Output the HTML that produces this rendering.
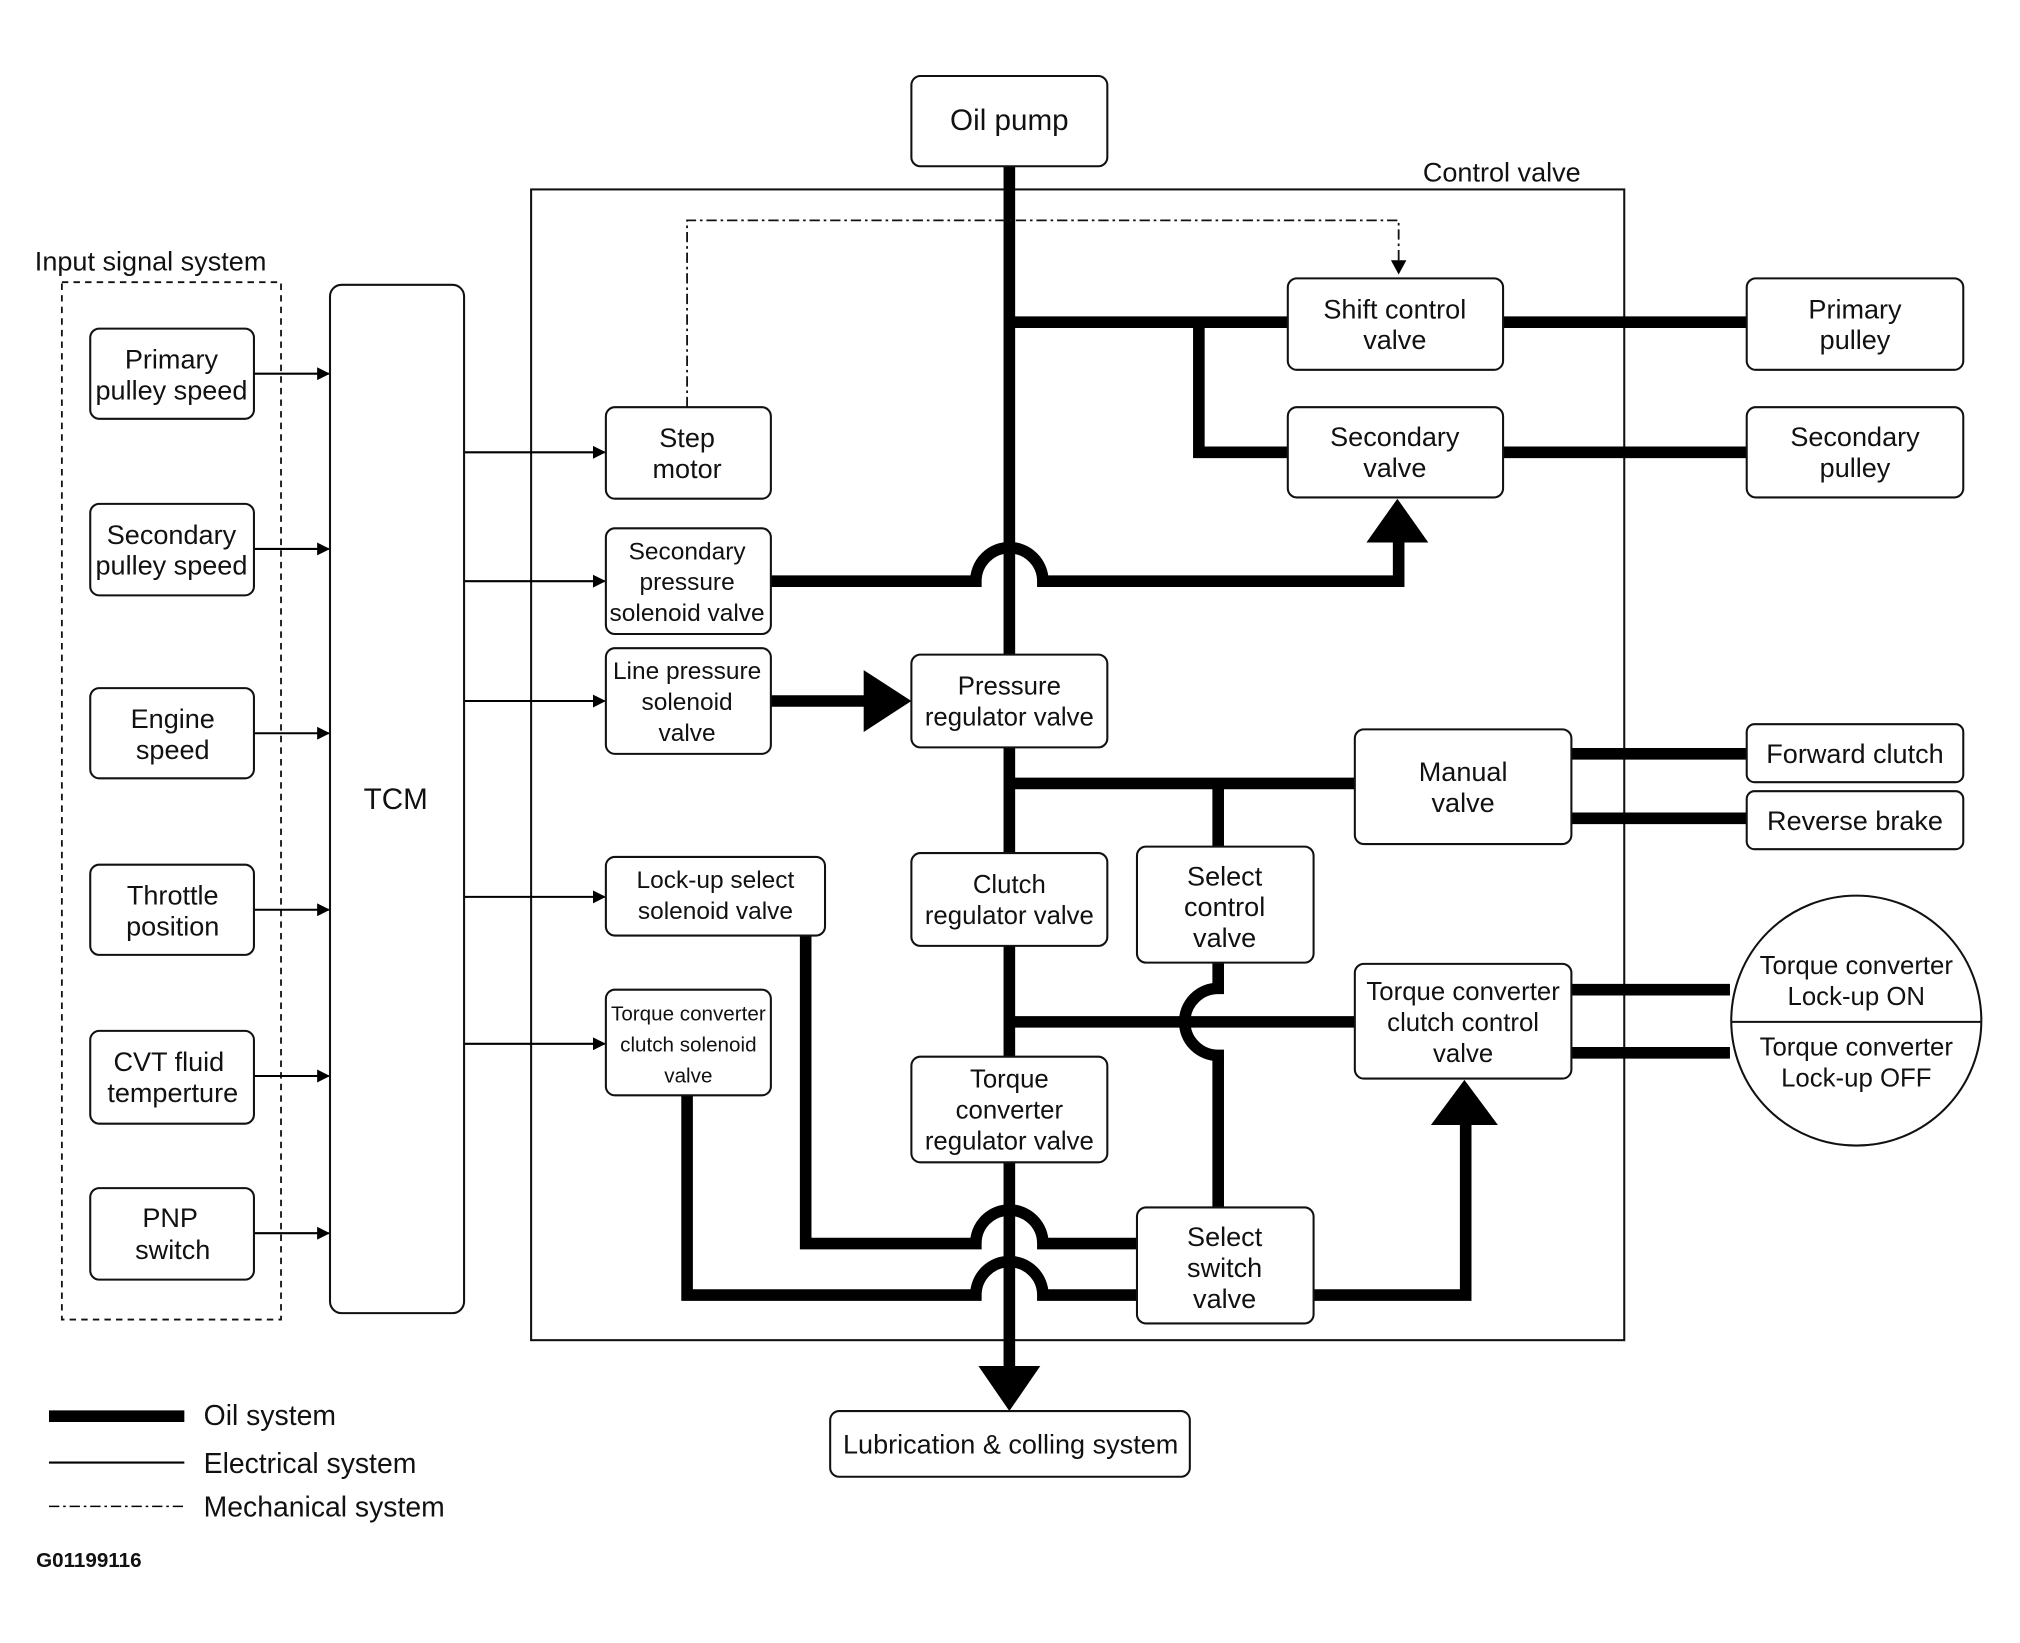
<!DOCTYPE html>
<html><head><meta charset="utf-8"><style>
html,body{margin:0;padding:0;background:#fff}
svg{display:block}
text{font-family:"Liberation Sans",sans-serif;font-size:21px;fill:#111;text-anchor:middle}
.b{fill:#fff;stroke:#111;stroke-width:1.6}
.t{fill:none;stroke:#000;stroke-width:9}
.e{fill:none;stroke:#000;stroke-width:1.6}
</style></head><body>
<svg width="2020" height="1643" viewBox="0 0 1567 1275" preserveAspectRatio="none" xmlns="http://www.w3.org/2000/svg">
<defs><marker id="a" markerWidth="10" markerHeight="10" refX="9" refY="5" orient="auto" markerUnits="userSpaceOnUse"><path d="M0,0 L10,5 L0,10 z" fill="#000"/></marker></defs>
<rect x="412" y="147" width="848" height="893" fill="none" stroke="#111" stroke-width="1.6"/>
<text x="1165" y="141">Control valve</text>
<rect x="48" y="219" width="170" height="805" fill="none" stroke="#111" stroke-width="1.4" stroke-dasharray="5,4"/>
<text x="27" y="210" style="text-anchor:start">Input signal system</text>

<path class="t" d="M783 129 V508 M783 580 V662 M783 734 V820 M783 902 V1062"/>
<path class="t" d="M783 250 H999 M1166 250 H1355 M930 250 V351 H999 M1166 351 H1355"/>
<path class="t" d="M598 451 H757 A26 26 0 0 1 809 451 H1085 V420"/>
<polygon points="1060,421 1108,421 1084,387" fill="#000"/>
<path class="t" d="M598 544 H672"/>
<polygon points="670,520 670,568 707,544" fill="#000"/>
<path class="t" d="M783 608 H1051 M945 608 V657 M1219 585 H1355 M1219 635 H1355"/>
<path class="t" d="M783 793 H1051 M945 747 V767 A26 26 0 0 0 945 819 V937 M1219 768 H1342 M1219 817 H1342"/>
<path class="t" d="M625 726 V965 H757 A26 26 0 0 1 809 965 H882"/>
<path class="t" d="M533 850 V1005 H757 A26 26 0 0 1 809 1005 H882 M1019 1005 H1137 V872"/>
<polygon points="1110,873 1162,873 1136,838" fill="#000"/>
<polygon points="759,1060 807,1060 783,1095" fill="#000"/>

<path d="M533 316 V171 H1085 V205" fill="none" stroke="#111" stroke-width="1.4" stroke-dasharray="8,3,2,3"/>
<path d="M1079,202 L1091,202 L1085,213 z" fill="#000"/>

<g class="e" marker-end="url(#a)">
<path d="M197 290 H255"/><path d="M197 426 H255"/><path d="M197 569 H255"/><path d="M197 706 H255"/><path d="M197 835 H255"/><path d="M197 957 H255"/>
<path d="M360 351 H469"/><path d="M360 451 H469"/><path d="M360 544 H469"/><path d="M360 696 H469"/><path d="M360 810 H469"/>
</g>

<rect class="b" x="707" y="59" width="152" height="70" rx="7"/><text x="783" y="101" style="font-size:23px">Oil pump</text>
<rect class="b" x="256" y="221" width="104" height="798" rx="9"/><text x="307" y="628" style="font-size:23px">TCM</text>
<g>
<rect class="b" x="70" y="255" width="127" height="70" rx="7"/><text x="133" y="286">Primary</text><text x="133" y="310">pulley speed</text>
<rect class="b" x="70" y="391" width="127" height="71" rx="7"/><text x="133" y="422">Secondary</text><text x="133" y="446">pulley speed</text>
<rect class="b" x="70" y="534" width="127" height="70" rx="7"/><text x="134" y="565">Engine</text><text x="134" y="589">speed</text>
<rect class="b" x="70" y="671" width="127" height="70" rx="7"/><text x="134" y="702">Throttle</text><text x="134" y="726">position</text>
<rect class="b" x="70" y="800" width="127" height="72" rx="7"/><text x="131" y="831">CVT fluid</text><text x="134" y="855">temperture</text>
<rect class="b" x="70" y="922" width="127" height="71" rx="7"/><text x="132" y="952">PNP</text><text x="134" y="977">switch</text>
</g>
<rect class="b" x="470" y="316" width="128" height="71" rx="7"/><text x="533" y="347">Step</text><text x="533" y="371">motor</text>
<rect class="b" x="470" y="410" width="128" height="82" rx="7"/><text x="533" y="434" style="font-size:19px">Secondary</text><text x="533" y="458" style="font-size:19px">pressure</text><text x="533" y="482" style="font-size:19px">solenoid valve</text>
<rect class="b" x="470" y="503" width="128" height="82" rx="7"/><text x="533" y="527" style="font-size:19px">Line pressure</text><text x="533" y="551" style="font-size:19px">solenoid</text><text x="533" y="575" style="font-size:19px">valve</text>
<rect class="b" x="470" y="665" width="170" height="61" rx="7"/><text x="555" y="689" style="font-size:19px">Lock-up select</text><text x="555" y="713" style="font-size:19px">solenoid valve</text>
<rect class="b" x="470" y="768" width="128" height="82" rx="7"/><text x="534" y="792" style="font-size:16px">Torque converter</text><text x="534" y="816" style="font-size:16px">clutch solenoid</text><text x="534" y="840" style="font-size:16px">valve</text>
<rect class="b" x="707" y="508" width="152" height="72" rx="7"/><text x="783" y="539" style="font-size:20px">Pressure</text><text x="783" y="563" style="font-size:20px">regulator valve</text>
<rect class="b" x="707" y="662" width="152" height="72" rx="7"/><text x="783" y="693" style="font-size:20px">Clutch</text><text x="783" y="717" style="font-size:20px">regulator valve</text>
<rect class="b" x="707" y="820" width="152" height="82" rx="7"/><text x="783" y="844" style="font-size:20px">Torque</text><text x="783" y="868" style="font-size:20px">converter</text><text x="783" y="892" style="font-size:20px">regulator valve</text>
<rect class="b" x="882" y="657" width="137" height="90" rx="7"/><text x="950" y="687">Select</text><text x="950" y="711">control</text><text x="950" y="735">valve</text>
<rect class="b" x="882" y="937" width="137" height="90" rx="7"/><text x="950" y="967">Select</text><text x="950" y="991">switch</text><text x="950" y="1015">valve</text>
<rect class="b" x="999" y="216" width="167" height="71" rx="7"/><text x="1082" y="247">Shift control</text><text x="1082" y="271">valve</text>
<rect class="b" x="999" y="316" width="167" height="70" rx="7"/><text x="1082" y="346">Secondary</text><text x="1082" y="370">valve</text>
<rect class="b" x="1051" y="566" width="168" height="89" rx="7"/><text x="1135" y="606">Manual</text><text x="1135" y="630">valve</text>
<rect class="b" x="1051" y="748" width="168" height="89" rx="7"/><text x="1135" y="776" style="font-size:20px">Torque converter</text><text x="1135" y="800" style="font-size:20px">clutch control</text><text x="1135" y="824" style="font-size:20px">valve</text>
<rect class="b" x="1355" y="216" width="168" height="71" rx="7"/><text x="1439" y="247">Primary</text><text x="1439" y="271">pulley</text>
<rect class="b" x="1355" y="316" width="168" height="70" rx="7"/><text x="1439" y="346">Secondary</text><text x="1439" y="370">pulley</text>
<rect class="b" x="1355" y="562" width="168" height="45" rx="6"/><text x="1439" y="592">Forward clutch</text>
<rect class="b" x="1355" y="614" width="168" height="45" rx="6"/><text x="1439" y="644">Reverse brake</text>
<circle cx="1440" cy="792" r="97" class="b"/><path d="M1343 793 H1537" stroke="#111" stroke-width="1.6"/>
<text x="1440" y="756" style="font-size:20px">Torque converter</text><text x="1440" y="780" style="font-size:20px">Lock-up ON</text>
<text x="1440" y="819" style="font-size:20px">Torque converter</text><text x="1440" y="843" style="font-size:20px">Lock-up OFF</text>
<rect class="b" x="644" y="1095" width="279" height="51" rx="7"/><text x="784" y="1128">Lubrication &amp; colling system</text>

<path d="M38 1099 H143" stroke="#000" stroke-width="9"/>
<path d="M38 1135 H143" stroke="#000" stroke-width="1.6"/>
<path d="M38 1169 H143" stroke="#000" stroke-width="1.2" stroke-dasharray="8,3,2,3"/>
<text x="158" y="1106" style="text-anchor:start;font-size:22px">Oil system</text>
<text x="158" y="1143" style="text-anchor:start;font-size:22px">Electrical system</text>
<text x="158" y="1177" style="text-anchor:start;font-size:22px">Mechanical system</text>
<text x="28" y="1216" style="text-anchor:start;font-size:16px;font-weight:bold">G01199116</text>
</svg>
</body></html>
